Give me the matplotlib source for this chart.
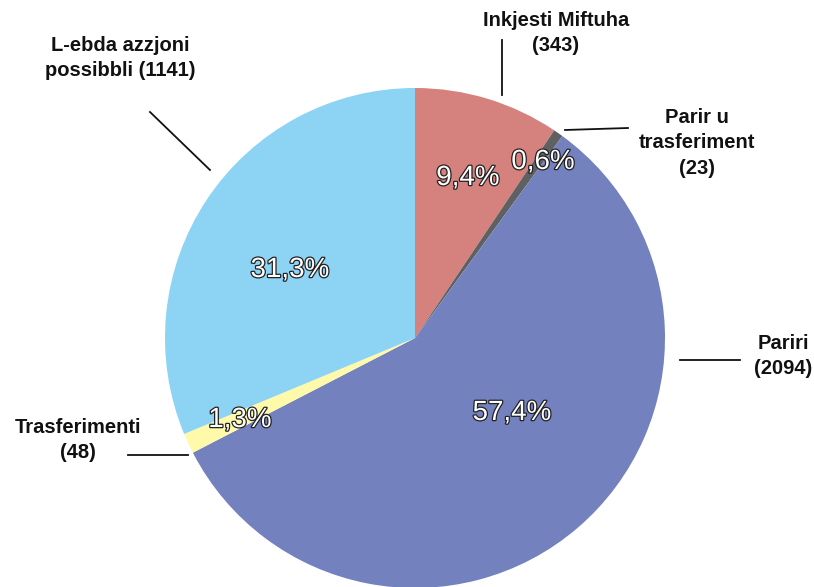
import matplotlib.pyplot as plt
import matplotlib.patheffects as pe

labels = ['Inkjesti Miftuha\n(343)', 'Parir u\ntrasferiment\n(23)', 'Pariri\n(2094)',
          'Trasferimenti\n(48)', 'L-ebda azzjoni\npossibbli (1141)']
values = [343, 23, 2094, 48, 1141]
pcts = ['9,4%', '0,6%', '57,4%', '1,3%', '31,3%']
colors = ['#D5827E', '#5F6062', '#7481BF', '#FEFAA9', '#8DD3F4']

plt.rcParams['font.family'] = ['Liberation Sans', 'DejaVu Sans']

fig = plt.figure(figsize=(8.14, 5.87), dpi=100)
ax = fig.add_axes([0, 0, 1, 1])
ax.pie(values, colors=colors, startangle=90, counterclock=False, radius=1.0,
       wedgeprops=dict(linewidth=0))
ax.set_xlim(-1.66, 1.596)
ax.set_ylim(-0.996, 1.352)
ax.set_aspect('equal')
ax.axis('off')

# percentage labels (white with dark outline)
pct_pos = [(0.212, 0.64), (0.512, 0.704), (0.388, -0.30), (-0.70, -0.328), (-0.50, 0.272)]
for (x, y), t in zip(pct_pos, pcts):
    ax.text(x, y, t, fontsize=20, color='white', ha='center', va='center',
            path_effects=[pe.withStroke(linewidth=1.8, foreground='#222222')])

# outer labels
lab_pos = [(0.564, 1.22), (1.128, 0.78), (1.472, -0.072), (-1.348, -0.408), (-1.18, 1.12)]
for (x, y), t in zip(lab_pos, labels):
    ax.text(x, y, t, fontsize=14.5, fontweight='bold', ha='center', va='center',
            linespacing=1.45, color='#111111')

# leader lines
lines = [((0.348, 1.192), (0.348, 0.972)),
         ((0.6, 0.832), (0.852, 0.84)),
         ((1.06, -0.088), (1.3, -0.088)),
         ((-1.148, -0.468), (-0.908, -0.468)),
         ((-1.06, 0.904), (-0.82, 0.672))]
for (x0, y0), (x1, y1) in lines:
    ax.plot([x0, x1], [y0, y1], color='#111111', linewidth=1.3)

plt.savefig('out.png', dpi=100)
